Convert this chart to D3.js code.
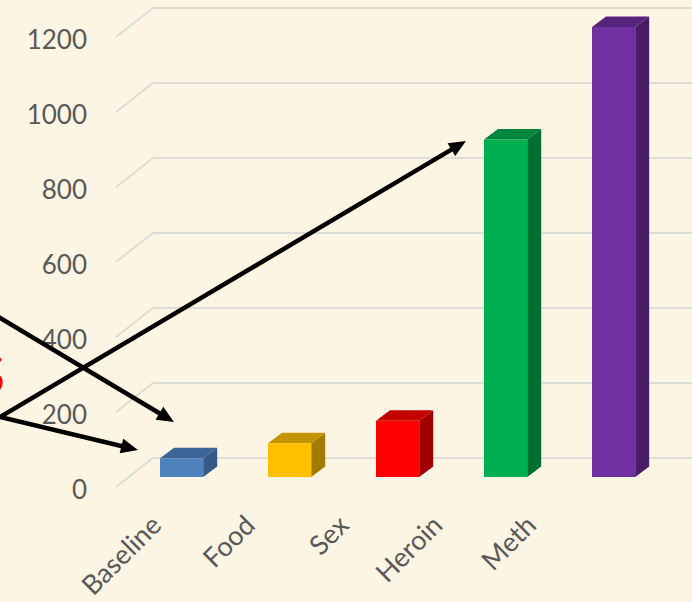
<!DOCTYPE html>
<html>
<head>
<meta charset="utf-8">
<script src="https://cdn.jsdelivr.net/npm/d3@7"></script>
<style>
  html, body { margin: 0; padding: 0; background: #fdf5e4; }
  svg { display: block; }
  text { font-family: Lato, "Open Sans", sans-serif; }
</style>
</head>
<body>
<svg id="chart" width="692" height="602"></svg>
<script>
// Data
const categories = ["Baseline", "Food", "Sex", "Heroin", "Meth"];
const values = [50, 90, 150, 900, 1200];
const frontColors = ["#4f81bd", "#ffc000", "#ff0000", "#00b050", "#7030a0"];
const topColors = ["#3e6597", "#c49300", "#c40000", "#00863d", "#56257b"];
const sideColors = ["#365884", "#a17a00", "#a00000", "#006f32", "#471e66"];
const yTicks = [0, 200, 400, 600, 800, 1000, 1200];

const W = 692, H = 602;
const svg = d3.select("#chart");

svg.append("rect").attr("width", W).attr("height", H).attr("fill", "#fdf5e4");

// 3D geometry: back wall, floor depth and bar depth offsets
const wallDepth = { dx: 37, dy: -29 };
const barDepth = { dx: 14, dy: -10.5 };
const wallLeft = 153, wallRight = W;

const yBack = d3.scaleLinear().domain([0, 1200]).range([458, 8]);
const yBar = d3.scaleLinear().domain([0, 1200]).range([477, 27]);

const x = d3.scaleBand().domain(categories)
  .range([127.6, 667.6]).paddingInner(0.6).paddingOuter(0.3);

// Category label anchors sit along the front floor edge
const xLabel = d3.scalePoint().domain(categories).range([163, 538]);

// Gridlines: horizontal on the back wall, diagonal across the side floor edge
const grid = svg.append("g").attr("stroke", "#dcdcd8").attr("stroke-width", 2).attr("fill", "none");
yTicks.forEach(v => {
  const yb = yBack(v);
  grid.append("path")
    .attr("d", `M${wallLeft - wallDepth.dx},${yb - wallDepth.dy} L${wallLeft},${yb} L${wallRight},${yb}`);
});

// Y tick labels
svg.append("g").selectAll("text").data(yTicks).join("text")
  .attr("x", 87)
  .attr("y", d => yBack(d) - wallDepth.dy + 2)
  .attr("text-anchor", "end")
  .attr("dominant-baseline", "central")
  .attr("font-size", 26)
  .attr("fill", "#595959")
  .text(d => d);

// Bars: side face, top face, front face
const bars = svg.append("g").selectAll("g").data(categories).join("g");
bars.each(function (c, i) {
  const g = d3.select(this);
  const x0 = x(c), x1 = x(c) + x.bandwidth();
  const yt = yBar(values[i]), yb = yBar(0);
  const { dx, dy } = barDepth;
  g.append("path")
    .attr("d", `M${x1},${yt} L${x1 + dx},${yt + dy} L${x1 + dx},${yb + dy} L${x1},${yb} Z`)
    .attr("fill", sideColors[i]);
  g.append("path")
    .attr("d", `M${x0},${yt} L${x0 + dx},${yt + dy} L${x1 + dx},${yt + dy} L${x1},${yt} Z`)
    .attr("fill", topColors[i]);
  g.append("rect")
    .attr("x", x0).attr("y", yt)
    .attr("width", x1 - x0).attr("height", yb - yt)
    .attr("fill", frontColors[i]);
});

// Rotated category labels
svg.append("g").selectAll("text").data(categories).join("text")
  .attr("transform", d => `translate(${xLabel(d)},527) rotate(-45)`)
  .attr("text-anchor", "end")
  .attr("font-size", 27)
  .attr("fill", "#595959")
  .text(d => d);

// Annotation arrows coming in from the left margin
const arrows = [
  { from: [-10, 312], to: [174, 422] },
  { from: [0, 417], to: [466, 141] },
  { from: [0, 417], to: [138, 450] }
];
const ann = svg.append("g");
const headLen = 17, headHalf = 7.5;
arrows.forEach(a => {
  const [x1, y1] = a.from, [x2, y2] = a.to;
  const len = Math.hypot(x2 - x1, y2 - y1);
  const ux = (x2 - x1) / len, uy = (y2 - y1) / len;
  const bx = x2 - ux * headLen, by = y2 - uy * headLen;
  ann.append("line")
    .attr("x1", x1).attr("y1", y1).attr("x2", bx + ux * 2).attr("y2", by + uy * 2)
    .attr("stroke", "#000").attr("stroke-width", 4.5);
  ann.append("path")
    .attr("d", `M${x2},${y2} L${bx - uy * headHalf},${by + ux * headHalf} L${bx + uy * headHalf},${by - ux * headHalf} Z`)
    .attr("fill", "#000");
});

// Large red heading letter running off the left edge
svg.append("text")
  .attr("x", 5).attr("y", 394)
  .attr("text-anchor", "end")
  .attr("font-family", "'Liberation Sans', Arial, sans-serif")
  .attr("font-size", 54)
  .attr("fill", "#ff0000")
  .text("S");
</script>
</body>
</html>
